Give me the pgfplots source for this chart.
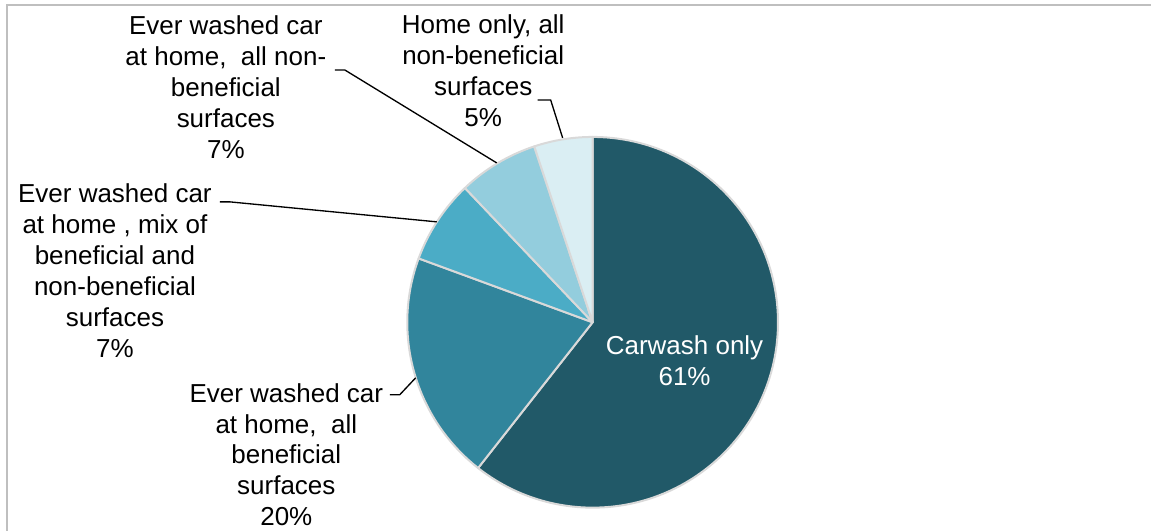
\documentclass[border=0pt]{standalone}
\usepackage{fontspec}
\setmainfont{Liberation Sans}
\usepackage{pgfplots}
\usepackage{pgfplotstable}
\pgfplotsset{compat=1.18}

\definecolor{sA}{HTML}{215968}
\definecolor{sB}{HTML}{31859C}
\definecolor{sC}{HTML}{4BACC6}
\definecolor{sD}{HTML}{93CDDD}
\definecolor{sE}{HTML}{DAEEF3}
\definecolor{edge}{HTML}{D9D9D9}
\definecolor{frame}{HTML}{BFBFBF}

% share of respondents (%), clockwise from 12 o'clock
\pgfplotstableread{
value col
60.6  sA
20.0  sB
7.3   sC
7.0   sD
5.1   sE
}\slices

\tikzset{lbl/.style={font=\fontsize{19.5}{23.25}\selectfont, align=center, inner sep=0pt}}

\begin{document}
\begin{tikzpicture}
\begin{axis}[
    scale only axis,
    width=864pt, height=398.25pt,
    xmin=0, xmax=1152, ymin=0, ymax=531,
    hide axis, clip=false,
]
\path (axis cs:0,0) rectangle (axis cs:1152,531);
% chart frame (only top and left edges visible)
\draw[frame, line width=1.1pt] (axis cs:7,0) -- (axis cs:7,526) -- (axis cs:1152,526);

% pie wedges, centre (593,208.5), radius 185.5 units = 139.1pt
\def\angA{90}
\pgfplotsforeachungrouped \i in {0,...,4}{
  \pgfplotstablegetelem{\i}{value}\of\slices \let\v\pgfplotsretval
  \pgfplotstablegetelem{\i}{col}\of\slices \let\c\pgfplotsretval
  \pgfmathsetmacro\angB{\angA-3.6*\v}
  \edef\temp{\noexpand\filldraw[fill=\c, draw=edge, line width=1.5pt, line join=round]
    (axis cs:593,208.5) -- ++(\angA:139.1pt)
    arc[start angle=\angA, end angle=\angB, radius=139.1pt] -- cycle;}
  \temp
  \let\angA\angB
}

% leader lines
\draw[black, line width=1pt] (axis cs:538,431) -- (axis cs:551,431) -- (axis cs:563,393);
\draw[black, line width=1pt] (axis cs:335,461) -- (axis cs:345,461) -- (axis cs:497,368);
\draw[black, line width=1pt] (axis cs:220,329) -- (axis cs:230,329) -- (axis cs:437,309);
\draw[black, line width=1pt] (axis cs:390,136) -- (axis cs:400,136) -- (axis cs:416,153);

% labels
\node[lbl, white] at (axis cs:685,170) {Carwash only\\61\%};
\node[lbl] at (axis cs:483.5,460.5) {Home only, all\\non-beneficial\\surfaces\\5\%};
\node[lbl] at (axis cs:226,444) {Ever washed car\\at home,\ \ all non-\\beneficial\\surfaces\\7\%};
\node[lbl] at (axis cs:115,260.5) {Ever washed car\\at home , mix of\\beneficial and\\non-beneficial\\surfaces\\7\%};
\node[lbl] at (axis cs:286.5,76) {Ever washed car\\at home,\ \ all\\beneficial\\surfaces\\20\%};
\end{axis}
\end{tikzpicture}
\end{document}
